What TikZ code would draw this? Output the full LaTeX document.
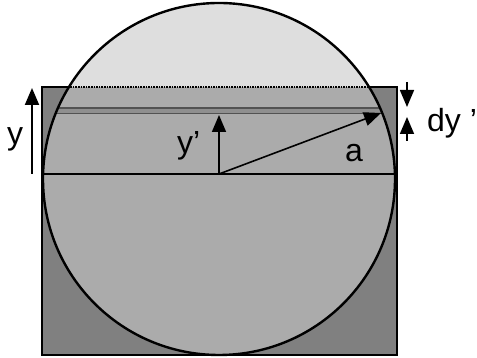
\documentclass[tikz,border=0pt]{standalone}
\usepackage{fontspec}
\setmainfont{Liberation Sans}
\usetikzlibrary{arrows.meta}
\definecolor{sheetgray}{gray}{0.5}
\definecolor{lightzone}{gray}{0.87}
\definecolor{midzone}{gray}{0.67}
\definecolor{stripfill}{gray}{0.56}
\definecolor{stripedge}{gray}{0.32}
\begin{document}
\begin{tikzpicture}[x=1pt,y=1pt,>={Triangle[length=17pt,width=14pt]},
  lbl/.style={font=\fontsize{32}{38}\selectfont,inner sep=0pt,anchor=base west}]
  \useasboundingbox (0,0) rectangle (477,358);

  % Points
  \coordinate (C) at (219,179);
  \coordinate (O) at (219,184);
  \coordinate (yfoot) at (32,184);
  \coordinate (ytip) at (32,270);
  \coordinate (yptip) at (219,243);
  \coordinate (atip) at (381,245);
  \coordinate (dtop) at (407,276);
  \coordinate (dtoptip) at (407,251);
  \coordinate (dbot) at (407,217);
  \coordinate (dbottip) at (407,241);

  % Plaque
  \draw[line width=2pt,fill=sheetgray] (42,3) rectangle (397,271);

  % Disque
  \fill[lightzone] (C) circle (176);
  \begin{scope}
    \clip (C) circle (176);
    \fill[midzone] (0,0) rectangle (477,271);
    \draw[draw=stripedge,fill=stripfill,line width=1.6pt] (0,244.5) rectangle (477,250);
    \draw[densely dotted,line width=1.6pt] (0,271) -- (477,271);
  \end{scope}
  \draw[line width=2.4pt] (C) circle (176);
  \draw[line width=2pt] (42,184) -- (397,184);

  % Fleches
  \draw[->,line width=2pt] (yfoot) -- (ytip);
  \draw[->,line width=1.6pt] (O) -- (yptip);
  \draw[->,line width=1.6pt] (O) -- (atip);
  \draw[->,line width=1.6pt] (dtop) -- (dtoptip);
  \draw[->,line width=1.6pt] (dbot) -- (dbottip);

  % Textes
  \node[lbl] (ylab) at (7,213) {y};
  \node[lbl] (yplab) at (177,204) {y'};
  \node[lbl] (alab) at (345,196) {a};
  \node[lbl] (dylab) at (427,226) {dy '};
\end{tikzpicture}
\end{document}
